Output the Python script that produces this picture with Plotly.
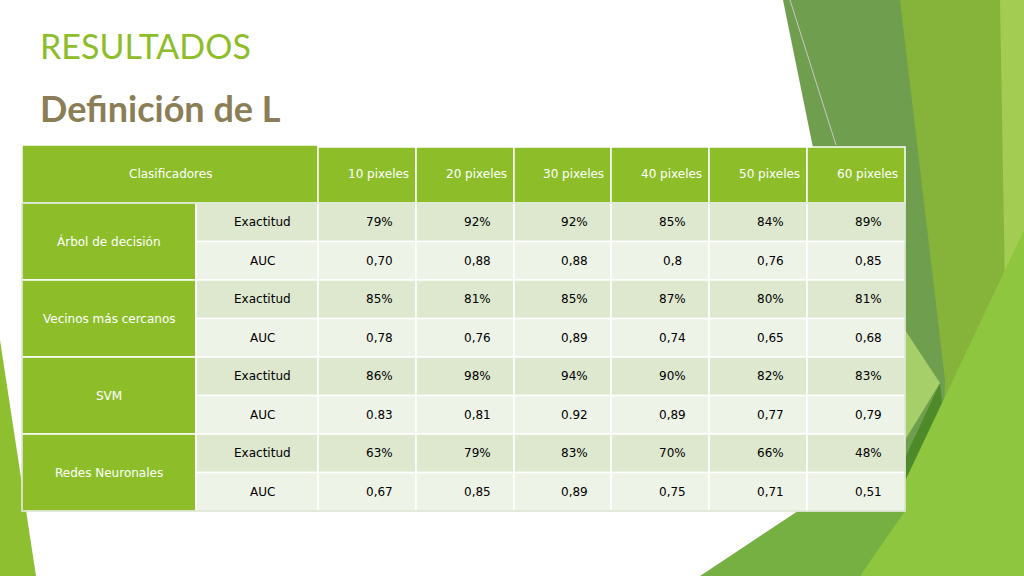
import plotly.graph_objects as go

columnas = ["10 pixeles", "20 pixeles", "30 pixeles", "40 pixeles", "50 pixeles", "60 pixeles"]
clasificadores = ["Árbol de decisión", "Vecinos más cercanos", "SVM", "Redes Neuronales"]
metricas = ["Exactitud", "AUC"]
exactitud = [
    ["79%", "92%", "92%", "85%", "84%", "89%"],
    ["85%", "81%", "85%", "87%", "80%", "81%"],
    ["86%", "98%", "94%", "90%", "82%", "83%"],
    ["63%", "79%", "83%", "70%", "66%", "48%"],
]
auc = [
    ["0,70", "0,88", "0,88", "0,8", "0,76", "0,85"],
    ["0,78", "0,76", "0,89", "0,74", "0,65", "0,68"],
    ["0.83", "0,81", "0.92", "0,89", "0,77", "0,79"],
    ["0,67", "0,85", "0,89", "0,75", "0,71", "0,51"],
]

GREEN = "#8dbe2a"
ROW_A = "#dde8cf"
ROW_B = "#eef3e8"
FONT = "DejaVu Sans"

fig = go.Figure()
shapes = []
ann = []

# decorative background polygons
deco = [
    ("M 783 0 L 1000 0 L 1000 576 L 900 576 Z", "#6f9e4e"),
    ("M 900 0 L 1000 0 L 1024 0 L 1024 576 L 940 576 L 945 380 Z", "#86b33a"),
    ("M 1000 0 L 1024 0 L 1024 576 L 1010 576 Z", "#a3cd52"),
    ("M 940 383 L 960 576 L 850 576 Z", "#4f8a2a"),
    ("M 1024 230 L 1024 576 L 860 576 Z", "#8ec63f"),
    ("M 905 330 L 940 383 L 905 440 Z", "#a6cf6a"),
    ("M 700 576 L 905 440 L 905 511 L 860 576 Z", "#76b043"),
    ("M 0 340 L 36 576 L 0 576 Z", "#8dbf30"),
]
for p, c in deco:
    shapes.append(dict(type="path", path=p, fillcolor=c, line=dict(width=0), layer="below"))
shapes.append(dict(type="line", x0=790, y0=0, x1=836, y1=145, line=dict(color="#c8c8c8", width=1)))

xs = [22, 196, 318, 416, 514, 611, 709, 807, 905]
top, head_h, row_h = 145, 58, 38.5

def rect(x0, y0, x1, y1, c):
    shapes.append(dict(type="rect", x0=x0, y0=y0, x1=x1, y1=y1, fillcolor=c,
                       line=dict(color="white", width=1.5)))

def text(x, y, t, col="black", size=12, anchor="center"):
    ann.append(dict(x=x, y=y, text=t, showarrow=False, xanchor=anchor,
                    font=dict(family=FONT, size=size, color=col)))

# header
rect(xs[0], top, xs[2], top + head_h, GREEN)
text((xs[0] + xs[2]) / 2, top + head_h / 2, "Clasificadores", "white")
for j, c in enumerate(columnas):
    rect(xs[j + 2], top + 2, xs[j + 3], top + head_h, GREEN)
    text(xs[j + 3] - 5, top + head_h / 2, c, "white", anchor="right")

y = top + head_h
for i, nombre in enumerate(clasificadores):
    rect(xs[0], y, xs[1], y + 2 * row_h, GREEN)
    text((xs[0] + xs[1]) / 2, y + row_h, nombre, "white")
    for k, (m, vals) in enumerate(zip(metricas, [exactitud[i], auc[i]])):
        yy = y + k * row_h
        fill = ROW_A if k == 0 else ROW_B
        rect(xs[1], yy, xs[2], yy + row_h, fill)
        text((xs[1] + xs[2]) / 2 + 5, yy + row_h / 2, m)
        for j, v in enumerate(vals):
            rect(xs[j + 2], yy, xs[j + 3], yy + row_h, fill)
            text((xs[j + 2] + xs[j + 3]) / 2 + 12, yy + row_h / 2, v)
    y += 2 * row_h

# outer border
shapes.append(dict(type="rect", x0=xs[0], y0=top + head_h, x1=xs[-1], y1=y,
                   line=dict(color="#c8d6b8", width=1)))

ann.append(dict(x=38, y=45, text="RESULTADOS", showarrow=False, xanchor="left",
                font=dict(family="Lato", size=34, color="#8dbe2a")))
ann.append(dict(x=38, y=108, text="<b>Definición de L</b>", showarrow=False, xanchor="left",
                font=dict(family="Lato", size=36, color="#8b7e56")))

fig.update_layout(
    width=1024, height=576, margin=dict(l=0, r=0, t=0, b=0),
    paper_bgcolor="white", plot_bgcolor="white",
    xaxis=dict(range=[0, 1024], visible=False, fixedrange=True),
    yaxis=dict(range=[576, 0], visible=False, fixedrange=True),
    shapes=shapes, annotations=ann, showlegend=False,
)
fig.write_html("out.html", config=dict(displayModeBar=False),
               post_script="document.body.style.margin='0';document.body.style.overflow='hidden';")
